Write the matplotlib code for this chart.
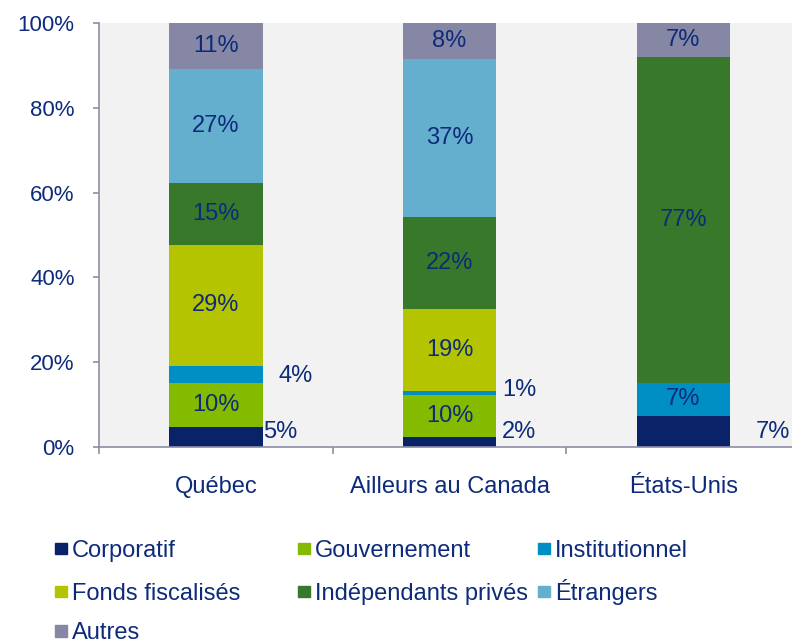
import matplotlib
matplotlib.use("Agg")
import matplotlib.pyplot as plt
from matplotlib.patches import Rectangle
import numpy as np

plt.rcParams['font.family'] = ['Liberation Sans', 'DejaVu Sans']

categories = ["Québec", "Ailleurs au Canada", "États-Unis"]
series = ["Corporatif", "Gouvernement", "Institutionnel", "Fonds fiscalisés",
          "Indépendants privés", "Étrangers", "Autres"]
corporatif = [4.7, 2.4, 7.3]
gouvernement = [10.4, 9.9, 0.0]
institutionnel = [4.0, 0.9, 7.8]
fonds = [28.6, 19.3, 0.0]
independants = [14.6, 21.7, 76.9]
etrangers = [26.9, 37.3, 0.0]
autres = [10.8, 8.5, 8.0]
values = [corporatif, gouvernement, institutionnel, fonds, independants, etrangers, autres]
# printed percentages
labels = [[5, 2, 7], [10, 10, None], [4, 1, 7], [29, 19, None],
          [15, 22, 77], [27, 37, None], [11, 8, 7]]

colors = ["#0A2267", "#84BA00", "#008FC5", "#B5C400", "#37782A", "#64AFCE", "#8587A5"]
text_color = "#0D2B7A"
spine_color = "#8C8CA8"

fig = plt.figure(figsize=(7.92, 6.44), dpi=100)
ax = fig.add_axes([0.125, 0.306, 0.875, 0.658])
ax.set_facecolor("#F2F2F2")

x = np.arange(len(categories))
width = 0.40
bottom = np.zeros(len(categories))
# outside label positions (x offset from centre, y) for small segments
outside = {(0, 0): (0.203, 3.5), (2, 0): (0.27, 16.7),
           (0, 1): (0.222, 3.5), (2, 1): (0.226, 13.4),
           (0, 2): (0.31, 3.5)}
fs = 17
for si, vals in enumerate(values):
    v = np.array(vals)
    ax.bar(x, v, width, bottom=bottom, color=colors[si], zorder=2)
    for ci in range(len(categories)):
        if labels[si][ci] is None:
            continue
        label = f"{labels[si][ci]}%"
        if (si, ci) in outside:
            dx, yy = outside[(si, ci)]
            ax.text(x[ci] + dx, yy, label, ha='left', va='center', color=text_color, fontsize=fs)
        else:
            ax.text(x[ci], bottom[ci] + v[ci] / 2, label, ha='center', va='center',
                    color=text_color, fontsize=fs)
    bottom = bottom + v

ax.set_xlim(-0.5, 2.465)
ax.set_ylim(0, 100)
ax.set_yticks(np.arange(0, 101, 20))
ax.set_yticklabels([f"{t}%" for t in range(0, 101, 20)])
ax.set_xticks(x)
ax.set_xticklabels(categories)
ax.set_xticks([-0.5, 0.5, 1.5], minor=True)
ax.tick_params(axis='x', which='major', length=0, pad=21, labelsize=fs, labelcolor=text_color)
ax.tick_params(axis='x', which='minor', length=5, width=1.2, color=spine_color, direction='out')
ax.tick_params(axis='y', length=4.5, width=1.2, color=spine_color, pad=13, labelsize=16,
               labelcolor=text_color)
for s in ['top', 'right']:
    ax.spines[s].set_visible(False)
for s in ['left', 'bottom']:
    ax.spines[s].set_color(spine_color)
    ax.spines[s].set_linewidth(1.2)

# legend, row-major layout
col_x = [55, 298, 538]
row_y = [548.5, 591.5, 631]
W, H = 792, 644
msz = 11.5
for i, name in enumerate(series):
    r, c = divmod(i, 3)
    px, py = col_x[c], row_y[r]
    fig.patches.append(Rectangle((px / W, (H - py - msz / 2) / H), msz / W, msz / H,
                                 transform=fig.transFigure, color=colors[i]))
    fig.text((px + 17) / W, (H - py - 8.4) / H, name, ha='left', va='baseline',
             color=text_color, fontsize=fs)

fig.savefig("out.png", dpi=100)
